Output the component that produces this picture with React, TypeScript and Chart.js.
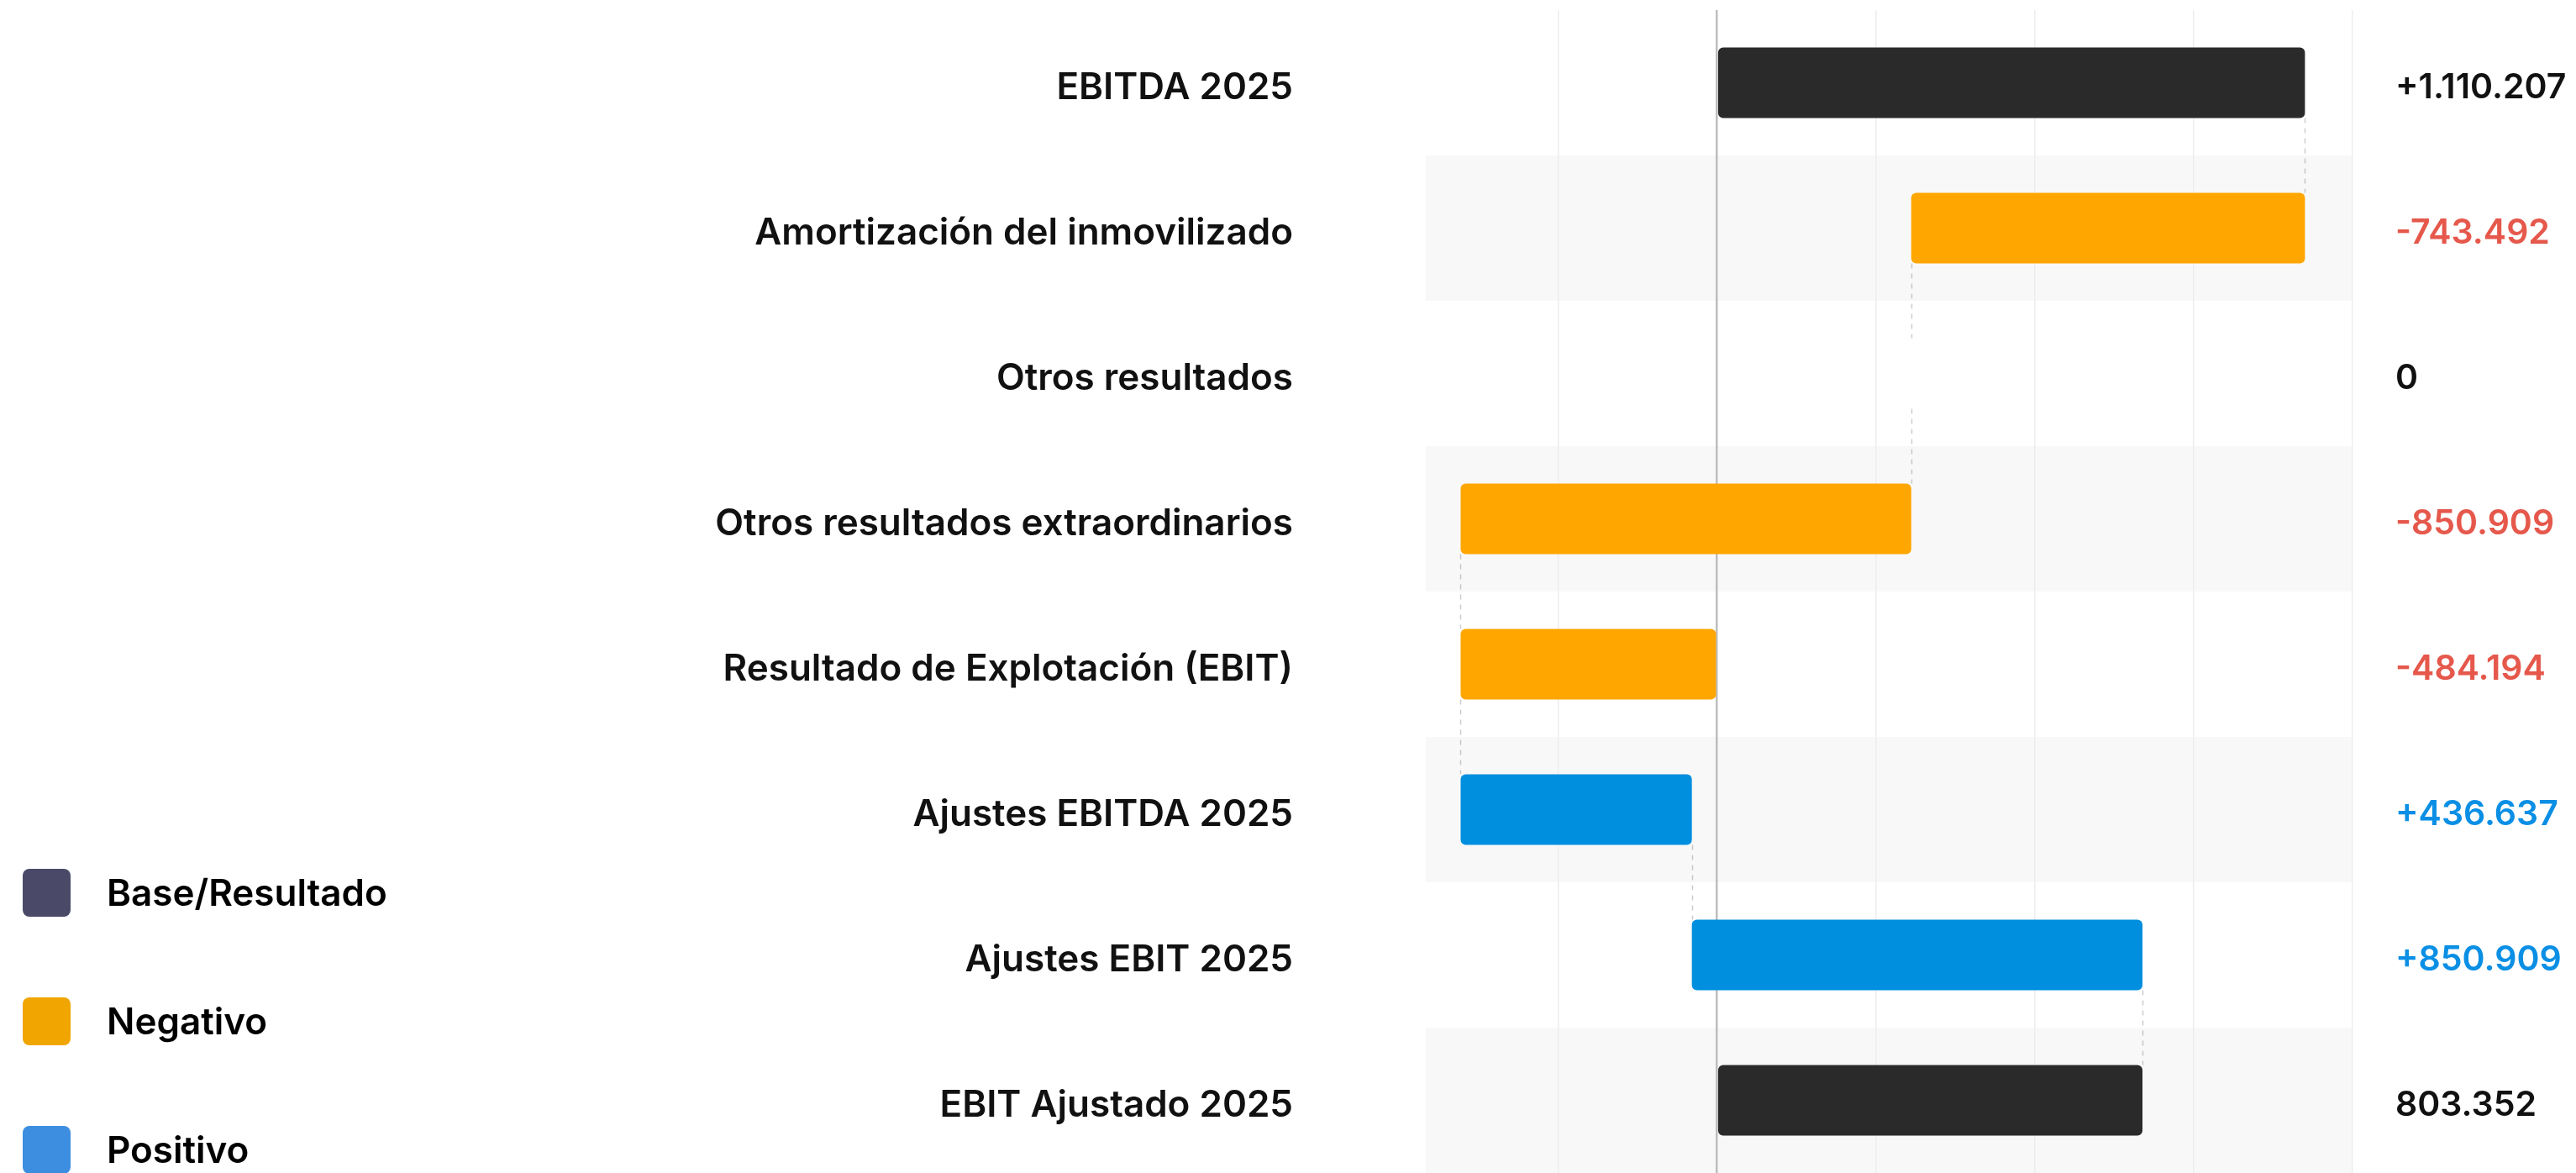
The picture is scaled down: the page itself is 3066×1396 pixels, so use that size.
import React, { useEffect, useRef } from 'react';
import { Chart, registerables } from 'chart.js';

Chart.register(...registerables);

const categories = [
  'EBITDA 2025',
  'Amortización del inmovilizado',
  'Otros resultados',
  'Otros resultados extraordinarios',
  'Resultado de Explotación (EBIT)',
  'Ajustes EBITDA 2025',
  'Ajustes EBIT 2025',
  'EBIT Ajustado 2025',
];
const amounts = [1110207, -743492, 0, -850909, -484194, 436637, 850909, 803352];
const isTotal = [true, false, false, false, true, false, false, true];
const valueLabels = ['+1.110.207', '-743.492', '0', '-850.909', '-484.194', '+436.637', '+850.909', '803.352'];
const legendLabels = ['Base/Resultado', 'Negativo', 'Positivo'];
const axisMin = -550000;
const axisMax = 1200000;
const gridValues = [-300000, 0, 300000, 600000, 900000, 1200000];

const FONT = 'Inter, "Noto Sans", sans-serif';

const BAR_COLORS: Record<string, string> = { base: '#2a2a2a', neg: '#FFA600', pos: '#008EDF' };
const LABEL_COLORS: Record<string, string> = { base: '#111111', neg: '#E5584B', pos: '#0A8FE5', zero: '#111111' };
const LEGEND_COLORS = ['#4A4A68', '#F0A500', '#3D8EE0'];

function kindOf(i: number): string {
  if (isTotal[i] && amounts[i] >= 0) return 'base';
  if (amounts[i] < 0) return 'neg';
  if (amounts[i] > 0) return 'pos';
  return 'zero';
}

function buildRanges(): [number, number][] {
  let running = 0;
  return amounts.map((a, i) => {
    if (isTotal[i]) {
      running = a;
      return [0, a] as [number, number];
    }
    const r: [number, number] = [running, running + a];
    running += a;
    return r;
  });
}

export default function App() {
  const ref = useRef<HTMLCanvasElement | null>(null);

  useEffect(() => {
    if (!ref.current) return;
    const ranges = buildRanges();
    const kinds = amounts.map((_, i) => kindOf(i));

    const bandPlugin = {
      id: 'bands',
      beforeDraw(chart: any) {
        const { ctx, chartArea } = chart;
        const y = chart.scales.y;
        const rowH = (chartArea.bottom - chartArea.top) / categories.length;
        ctx.save();
        ctx.fillStyle = '#F8F8F8';
        categories.forEach((_, i) => {
          if (i % 2 === 1) {
            const cy = y.getPixelForValue(i);
            ctx.fillRect(chartArea.left, cy - rowH / 2, chartArea.right - chartArea.left, rowH);
          }
        });
        ctx.restore();
      },
    };

    const connectorPlugin = {
      id: 'connectors',
      afterDatasetsDraw(chart: any) {
        const { ctx } = chart;
        const x = chart.scales.x;
        const meta = chart.getDatasetMeta(0);
        ctx.save();
        ctx.strokeStyle = 'rgba(0,0,0,0.2)';
        ctx.lineWidth = 1.5;
        ctx.setLineDash([6, 6]);
        for (let i = 0; i < ranges.length - 1; i++) {
          const a = meta.data[i];
          const b = meta.data[i + 1];
          const px = Math.round(x.getPixelForValue(ranges[i][1])) + 0.5;
          ctx.beginPath();
          ctx.moveTo(px, a.y + a.height / 2);
          ctx.lineTo(px, b.y - b.height / 2);
          ctx.stroke();
        }
        ctx.restore();
      },
    };

    const legendPlugin = {
      id: 'customLegend',
      afterDraw(chart: any) {
        const { ctx } = chart;
        ctx.save();
        const tops = [1026, 1179, 1332];
        legendLabels.forEach((lab, i) => {
          ctx.fillStyle = LEGEND_COLORS[i];
          ctx.beginPath();
          (ctx as any).roundRect(19, tops[i], 57, 57, 8);
          ctx.fill();
          ctx.fillStyle = '#000000';
          ctx.font = `600 44px ${FONT}`;
          ctx.textBaseline = 'middle';
          ctx.textAlign = 'left';
          ctx.fillText(lab, 119, tops[i] + 31);
        });
        ctx.restore();
      },
    };

    const zeroPad = (s: any) => {
      s.paddingTop = 0;
      s.paddingBottom = 0;
    };

    const chart = new Chart(ref.current, {
      type: 'bar',
      data: {
        labels: categories,
        datasets: [
          {
            data: ranges as any,
            backgroundColor: kinds.map((k) => BAR_COLORS[k] || BAR_COLORS.pos),
            borderRadius: 6,
            borderSkipped: false,
            barPercentage: 0.6,
            categoryPercentage: 0.81,
            yAxisID: 'y',
          },
        ],
      },
      options: {
        indexAxis: 'y',
        responsive: false,
        animation: false,
        layout: { padding: { top: 4, bottom: 4, left: 0, right: 0 } },
        plugins: { legend: { display: false }, tooltip: { enabled: false } },
        scales: {
          x: {
            type: 'linear',
            min: axisMin,
            max: axisMax,
            afterBuildTicks: (s: any) => {
              s.ticks = gridValues.map((v) => ({ value: v }));
            },
            ticks: { display: false },
            grid: {
              drawTicks: false,
              color: (c: any) => (c.tick && c.tick.value === 0 ? '#BDBDBD' : '#EDEDED'),
              lineWidth: (c: any) => (c.tick && c.tick.value === 0 ? 2.5 : 1.5),
            },
            border: { display: false },
          },
          y: {
            type: 'category',
            position: 'left',
            offset: true,
            grid: { display: false, drawTicks: false },
            border: { display: false },
            ticks: {
              padding: 158,
              labelOffset: 6,
              color: '#111111',
              font: { family: FONT, size: 44, weight: '600' },
            },
            afterFit: (s: any) => {
              s.width = 1689;
              zeroPad(s);
            },
          },
          y2: {
            type: 'category',
            position: 'right',
            offset: true,
            labels: valueLabels,
            grid: { display: false, drawTicks: false },
            border: { display: false },
            ticks: {
              padding: 51,
              labelOffset: 6,
              color: (c: any) => LABEL_COLORS[kinds[c.index]] || '#111111',
              font: { family: FONT, size: 41, weight: '600' },
            },
            afterFit: (s: any) => {
              s.width = 258;
              zeroPad(s);
            },
          },
        },
      } as any,
      plugins: [bandPlugin, connectorPlugin, legendPlugin],
    });
    return () => chart.destroy();
  }, []);

  return (
    <div style={{ width: 3050, height: 1392 }}>
      <canvas ref={ref} width={3050} height={1392} style={{ width: 3050, height: 1392, display: 'block' }} />
    </div>
  );
}
